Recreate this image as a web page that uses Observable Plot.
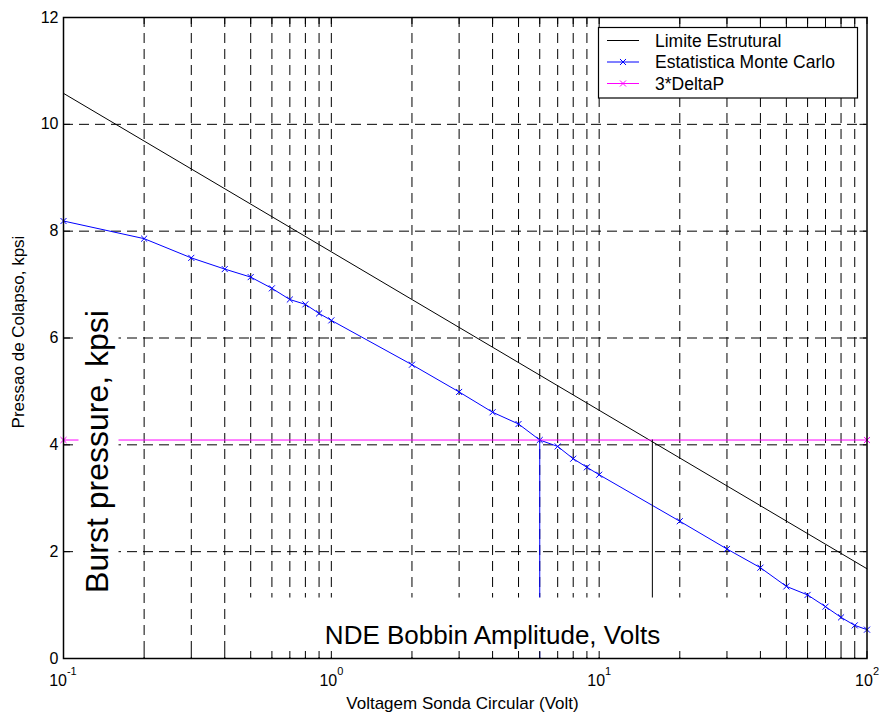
<!DOCTYPE html>
<html>
<head>
<meta charset="utf-8">
<script src="https://cdn.jsdelivr.net/npm/d3@7"></script>
<script src="https://cdn.jsdelivr.net/npm/@observablehq/plot@0.6"></script>
<style>
  body { margin: 0; background: #fff; }
</style>
</head>
<body>
<div id="chart"></div>
<script>
// Bobbin probe amplitude (V) sampled by the Monte Carlo study
const voltage = [0.1, 0.2, 0.3, 0.4, 0.5, 0.6, 0.7, 0.8, 0.9, 1,
                 2, 3, 4, 5, 6, 7, 8, 9, 10,
                 20, 30, 40, 50, 60, 70, 80, 90, 100];
// Burst pressure (kpsi) from the Monte Carlo statistics
const monteCarlo = [8.19, 7.86, 7.50, 7.29, 7.14, 6.93, 6.72, 6.63, 6.46, 6.33,
                    5.50, 4.99, 4.61, 4.39, 4.09, 3.97, 3.74, 3.58, 3.44,
                    2.57, 2.05, 1.70, 1.35, 1.19, 0.97, 0.77, 0.62, 0.54];
// Structural limit (straight in semi-log)
const structuralVolts = [0.1, 100];
const structuralLimit = [10.58, 1.68];
// 3*DeltaP criterion
const deltaVolts = [0.1, 100];
const deltaP3 = [4.09, 4.09];
// Voltage thresholds where each curve meets 3*DeltaP
const thresholdVolts = [6, 15.8];
const thresholdTop = [4.09, 4.09];
const thresholdBottom = [0, 1.12];

const seriesNames = ["Limite Estrutural", "Estatistica Monte Carlo", "3*DeltaP"];
const yTicks = [0, 2, 4, 6, 8, 10, 12];
const xDecades = [0.1, 1, 10, 100];
const xExponents = ["-1", "0", "1", "2"];
const xLabel = "Voltagem Sonda Circular (Volt)";
const yLabel = "Pressao de Colapso, kpsi";
const innerYLabel = "Burst pressure, kpsi";
const innerXLabel = "NDE Bobbin Amplitude, Volts";

const mc = voltage.map((v, i) => ({v, p: monteCarlo[i]}));
const limit = structuralVolts.map((v, i) => ({v, p: structuralLimit[i]}));
const delta = deltaVolts.map((v, i) => ({v, p: deltaP3[i]}));
const thresholds = thresholdVolts.map((v, i) => ({v, top: thresholdTop[i], bottom: thresholdBottom[i]}));

const xAll = d3.scaleLog().domain([0.1, 100]).ticks();      // 0.1 .. 100, all log ticks
const xGrid = xAll.filter(d => d > 0.1 && d < 100);
const yGrid = yTicks.filter(d => d > 0 && d < 12);

const W = 880, H = 714;
const mL = 63, mR = 13.5, mT = 17, mB = 56;
const iW = W - mL - mR, iH = H - mT - mB;
const tick = 7;
const dash = "10,6";
const mSize = 2.85;

// exponent split offset so that "10" + superscript is centred on the tick
const w10 = 2 * 0.556 * 16;
const expW = e => e.length * 0.45 * 11 + 1;

const marks = [
  // grid
  Plot.ruleX(xGrid, {x: d => d, stroke: "#000", strokeWidth: 1, strokeDasharray: dash}),
  Plot.ruleY(yGrid, {y: d => d, stroke: "#000", strokeWidth: 1, strokeDasharray: dash}),

  // series
  Plot.line(limit, {x: "v", y: "p", stroke: "black", strokeWidth: 1}),
  Plot.line(mc, {x: "v", y: "p", stroke: "blue", strokeWidth: 1}),
  Plot.dot(mc, {x: "v", y: "p", symbol: "times", r: mSize, stroke: "blue", strokeWidth: 1}),
  Plot.line(delta, {x: "v", y: "p", stroke: "magenta", strokeWidth: 1}),
  Plot.dot(delta, {x: "v", y: "p", symbol: "times", r: mSize, stroke: "magenta", strokeWidth: 1}),
  Plot.ruleX(thresholds.slice(0, 1), {x: "v", y1: "top", y2: "bottom", stroke: "blue", strokeWidth: 1}),
  Plot.ruleX(thresholds.slice(1), {x: "v", y1: "top", y2: "bottom", stroke: "black", strokeWidth: 1}),

  // white text boxes
  Plot.frame({fill: "white", stroke: null, insetLeft: 15, insetRight: iW - 55, insetTop: 279, insetBottom: 52}),
  Plot.frame({fill: "white", stroke: null, insetLeft: 169, insetRight: 96.5, insetTop: 580, insetBottom: tick}),

  Plot.text([innerYLabel], {frameAnchor: "left", dx: 34.5, dy: 113.5, rotate: -90,
    fontSize: 32, textAnchor: "middle", lineAnchor: "middle", fill: "black"}),
  Plot.text([innerXLabel], {frameAnchor: "bottom", dx: 27.25, dy: -23,
    fontSize: 26, textAnchor: "middle", lineAnchor: "middle", fill: "black"}),

  // inward ticks on all four sides
  Plot.ruleX(xAll, {x: d => d, insetTop: iH - tick, stroke: "black"}),
  Plot.ruleX(xAll, {x: d => d, insetBottom: iH - tick, stroke: "black"}),
  Plot.ruleY(yTicks, {y: d => d, insetRight: iW - tick, stroke: "black"}),
  Plot.ruleY(yTicks, {y: d => d, insetLeft: iW - tick, stroke: "black"}),

  Plot.frame({stroke: "black", strokeWidth: 1.5}),

  // tick labels
  Plot.text(yTicks, {y: d => d, frameAnchor: "left", text: d => String(d),
    textAnchor: "end", dx: -5, fontSize: 16, fill: "black"}),
  ...xDecades.map((d, i) => {
    const split = (w10 - expW(xExponents[i])) / 2;
    return [
      Plot.text([d], {x: d => d, frameAnchor: "bottom", text: () => "10", textAnchor: "end",
        lineAnchor: "bottom", dx: split, dy: 27, fontSize: 16, fill: "black"}),
      Plot.text([d], {x: d => d, frameAnchor: "bottom", text: () => xExponents[i], textAnchor: "start",
        lineAnchor: "bottom", dx: split, dy: 16.5, fontSize: 11, fill: "black"})
    ];
  }).flat(),

  // axis titles
  Plot.text([xLabel], {frameAnchor: "bottom", dx: -2.75, dy: 45, fontSize: 17,
    textAnchor: "middle", lineAnchor: "middle", fill: "black"}),
  Plot.text([yLabel], {frameAnchor: "left", dx: -44.5, dy: -6, rotate: -90, fontSize: 17,
    textAnchor: "middle", lineAnchor: "middle", fill: "black"})
];

const chart = Plot.plot({
  width: W, height: H,
  marginLeft: mL, marginRight: mR, marginTop: mT, marginBottom: mB,
  x: {type: "log", domain: [0.1, 100], axis: null},
  y: {domain: [0, 12], axis: null},
  style: {fontFamily: "'Liberation Sans', Arial, Helvetica, sans-serif", fontSize: "16px",
          background: "#fff", color: "black", overflow: "visible"},
  marks
});

// legend in the upper-right corner of the axes
const svg = d3.select(chart);
const colors = ["black", "blue", "magenta"];
const withMarker = [false, true, true];
const lg = svg.append("g").attr("text-anchor", "start");
lg.append("rect").attr("x", 598.5).attr("y", 27.5).attr("width", 259).attr("height", 70.5)
  .attr("fill", "white").attr("stroke", "black").attr("stroke-width", 1.2);
const markerPath = d3.symbol(d3.symbolTimes, Math.PI * mSize * mSize)();
seriesNames.forEach((name, i) => {
  const cy = 40.5 + i * 21.5;
  lg.append("line").attr("x1", 607).attr("x2", 639).attr("y1", cy).attr("y2", cy)
    .attr("stroke", colors[i]).attr("stroke-width", 1);
  if (withMarker[i]) {
    lg.append("path").attr("d", markerPath).attr("transform", `translate(623,${cy})`)
      .attr("fill", "none").attr("stroke", colors[i]).attr("stroke-width", 1);
  }
  lg.append("text").attr("x", 655).attr("y", cy).attr("dy", "0.35em")
    .attr("text-anchor", "start").attr("font-size", 17.5).attr("fill", "black").text(name);
});

document.getElementById("chart").append(chart);
</script>
</body>
</html>
